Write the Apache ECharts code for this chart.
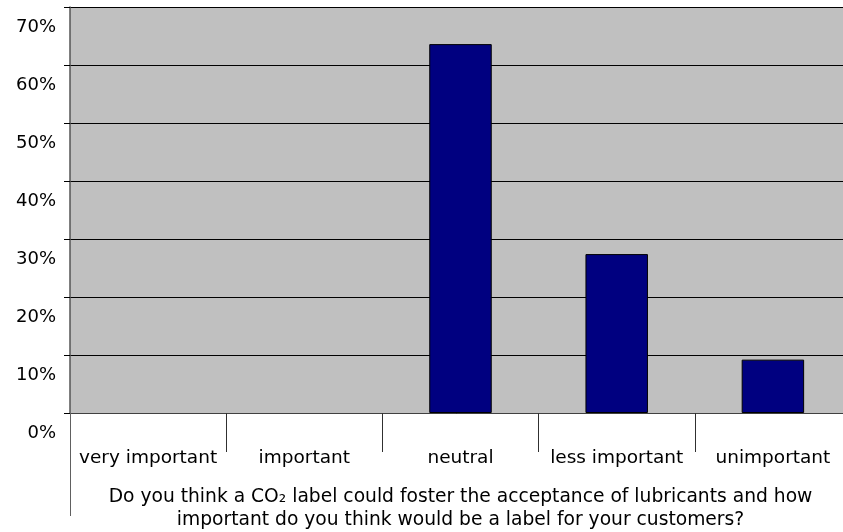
<!DOCTYPE html>
<html>
<head>
<meta charset="utf-8">
<script src="https://cdn.jsdelivr.net/npm/echarts@6/dist/echarts.min.js"></script>
<style>
  html, body { margin: 0; padding: 0; background: #ffffff; }
  #chart { width: 843px; height: 532px; }
</style>
</head>
<body>
<div id="chart"></div>
<script>
// Answer categories and share of respondents (%)
const categories = ['very important', 'important', 'neutral', 'less important', 'unimportant'];
const shares = [0, 0, 63.6, 27.4, 9.2];
const yMin = 0;
const yMax = 70;
const yStep = 10;
const axisTitle = 'Do you think a CO\u2082 label could foster the acceptance of lubricants and how\nimportant do you think would be a label for your customers?';

const FONT = '"DejaVu Sans", Verdana, sans-serif';

const chart = echarts.init(document.getElementById('chart'), null, { renderer: 'canvas' });

// empty answers get no outline so nothing shows at zero
const barData = shares.map(function (v) {
  return v === 0 ? { value: v, itemStyle: { borderWidth: 0 } } : v;
});

chart.setOption({
  animation: false,
  backgroundColor: '#ffffff',
  textStyle: { fontFamily: FONT, color: '#000' },
  grid: {
    left: 70,
    width: 781,
    top: 7,
    bottom: 119,
    outerBoundsMode: 'none',
    containLabel: false,
    show: true,
    backgroundColor: '#c0c0c0',
    borderWidth: 0
  },
  xAxis: [
    {
      type: 'category',
      data: categories,
      position: 'bottom',
      boundaryGap: true,
      axisLine: { show: true, lineStyle: { color: '#404040', width: 1 } },
      axisTick: { show: true, length: 39, lineStyle: { color: '#303030', width: 1 } },
      axisLabel: { fontFamily: FONT, fontSize: 18.5, color: '#000', margin: 36, interval: 0 },
      name: axisTitle,
      nameLocation: 'middle',
      nameGap: 73,
      nameTextStyle: { fontFamily: FONT, fontSize: 18.7, color: '#000', lineHeight: 23, align: 'center' }
    },
    {
      // long divider at the left edge of the category labels
      type: 'category',
      data: categories,
      position: 'bottom',
      boundaryGap: true,
      axisLine: { show: false },
      axisTick: {
        show: true,
        length: 103,
        interval: function (index) { return index === 0; },
        lineStyle: { color: '#606060', width: 1 }
      },
      axisLabel: { show: false }
    }
  ],
  yAxis: {
    type: 'value',
    min: yMin,
    max: yMax,
    interval: yStep,
    axisLine: { show: true, lineStyle: { color: '#555', width: 1.5 } },
    axisTick: { show: true, length: 6, lineStyle: { color: '#000' } },
    splitLine: { show: true, lineStyle: { color: '#000', width: 1 } },
    axisLabel: {
      fontFamily: FONT,
      fontSize: 18,
      color: '#000',
      margin: 14,
      verticalAlign: 'top',
      lineHeight: 18,
      padding: [11, 0, 0, 0],
      formatter: '{value}%'
    }
  },
  series: [
    {
      type: 'bar',
      data: barData,
      barWidth: '40%',
      itemStyle: { color: '#000080', borderColor: '#000', borderWidth: 1 }
    }
  ]
});
</script>
</body>
</html>
